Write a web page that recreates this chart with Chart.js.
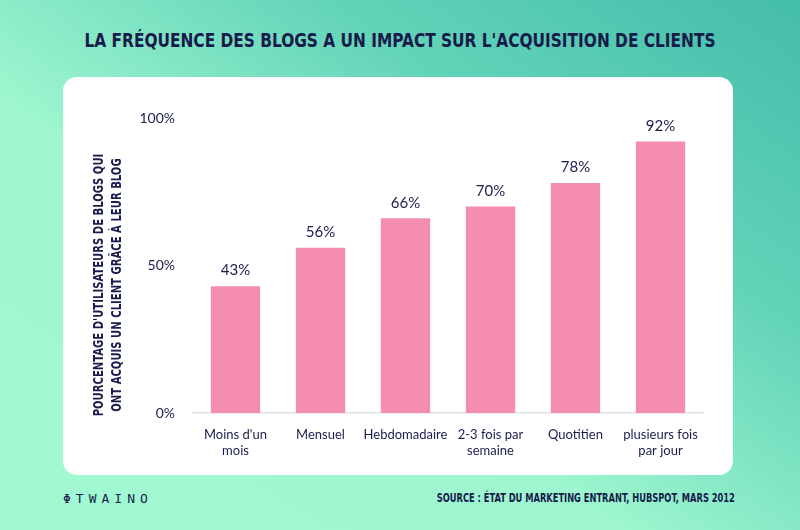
<!DOCTYPE html>
<html>
<head>
<meta charset="utf-8">
<script src="https://cdn.jsdelivr.net/npm/chart.js"></script>
<style>
  html, body { margin: 0; padding: 0; }
  body {
    width: 800px; height: 530px; position: relative; overflow: hidden;
    background: linear-gradient(35deg, #a1fad2 0%, #9df6cf 40%, #62d3b8 70%, #44bdab 100%);
    font-family: "DejaVu Sans Condensed", "Liberation Sans Narrow", sans-serif;
  }
  #title {
    position: absolute; left: 0; width: 800px; top: 29px; text-align: center;
    font-weight: bold; font-size: 19px; color: #171a4a;
    transform: scaleX(0.9); transform-origin: 400px 0;
  }
  #card {
    position: absolute; left: 63px; top: 77px; width: 670px; height: 398px;
    background: #fff; border-radius: 14px;
  }
  #logo {
    position: absolute; left: 63px; top: 491px; font-family: "DejaVu Sans Mono", monospace;
    font-size: 13px; color: #171a4a; letter-spacing: 5px;
  }
  #source {
    position: absolute; right: 65px; top: 490px; font-size: 13px; color: #171a4a;
    font-weight: bold; transform: scaleX(0.71); transform-origin: right top; white-space: nowrap;
  }
  canvas { position: absolute; left: 0; top: 0; }
</style>
</head>
<body>
<div id="title">LA FRÉQUENCE DES BLOGS A UN IMPACT SUR L'ACQUISITION DE CLIENTS</div>
<div id="card"></div>
<div id="logo">ΦTWAINO</div>
<div id="source">SOURCE : ÉTAT DU MARKETING ENTRANT, HUBSPOT, MARS 2012</div>
<div style="position:absolute;left:0;top:0;width:800px;height:530px;">
  <canvas id="chart" width="800" height="530"></canvas>
</div>
<script>
// Données du graphique
const categories = [["Moins d'un", "mois"], "Mensuel", "Hebdomadaire", ["2-3 fois par", "semaine"], "Quotitien", ["plusieurs fois", "par jour"]];
const values = [43, 56, 66, 70, 78, 92];
const yTicks = [0, 50, 100];
const yTitle = ["POURCENTAGE D'UTILISATEURS DE BLOGS QUI", "ONT ACQUIS UN CLIENT GRÂCE À LEUR BLOG"];

const navy = '#1b1d4d';

// Étiquettes de valeur au-dessus des barres + titre de l'axe Y
const labelsPlugin = {
    id: 'labels',
    afterDatasetsDraw(chart) {
        const ctx = chart.ctx;
        const meta = chart.getDatasetMeta(0);
        ctx.save();
        ctx.fillStyle = navy;
        ctx.font = '15px Lato, sans-serif';
        ctx.textAlign = 'center';
        ctx.textBaseline = 'bottom';
        meta.data.forEach((bar, i) => {
            ctx.fillText(values[i] + '%', bar.x, bar.y - 8);
        });
        // titre de l'axe Y (deux lignes, pivoté)
        ctx.translate(108, 285);
        ctx.rotate(-Math.PI / 2);
        ctx.scale(0.8, 1);
        ctx.font = 'bold 14px "DejaVu Sans Condensed", sans-serif';
        ctx.textBaseline = 'middle';
        ctx.fillText(yTitle[0], 0, -9);
        ctx.fillText(yTitle[1], 0, 9);
        ctx.restore();
    }
};

new Chart(document.getElementById('chart'), {
    type: 'bar',
    data: {
        labels: categories,
        datasets: [{
            data: values,
            backgroundColor: '#f48daf',
            barPercentage: 0.58,
            categoryPercentage: 1.0
        }]
    },
    options: {
        responsive: false,
        animation: false,
        layout: { padding: { left: 0, right: 97, top: 118, bottom: 0 } },
        plugins: { legend: { display: false }, tooltip: { enabled: false } },
        scales: {
            x: {
                grid: { display: false },
                border: { display: true, color: '#e2e2e2', width: 1.5 },
                ticks: { color: navy, font: { family: 'Lato, sans-serif', size: 13 }, padding: 6, maxRotation: 0, autoSkip: false },
                afterFit(scale) { scale.height = 117; }
            },
            y: {
                min: 0, max: 100,
                afterBuildTicks(scale) { scale.ticks = yTicks.map(v => ({ value: v })); },
                grid: { display: false },
                border: { display: false },
                ticks: { color: navy, font: { family: 'Lato, sans-serif', size: 14 }, padding: 10, callback: v => v + '%' },
                afterFit(scale) { scale.width = 193; }
            }
        }
    },
    plugins: [labelsPlugin]
});
</script>
</body>
</html>
